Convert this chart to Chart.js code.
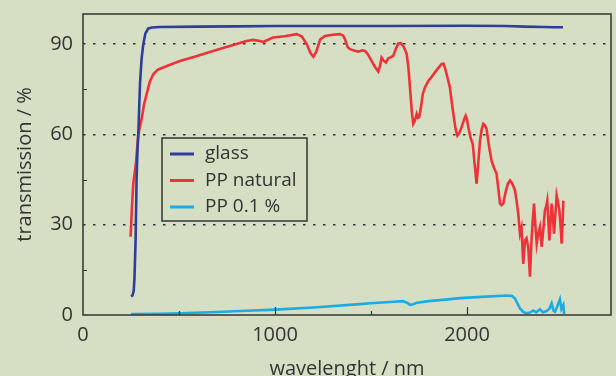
<!DOCTYPE html>
<html>
<head>
<meta charset="utf-8">
<script src="https://cdn.jsdelivr.net/npm/chart.js@4"></script>
<style>
  html, body { margin: 0; padding: 0; background: #d6dfc4; overflow: hidden; }
</style>
</head>
<body>
<canvas id="spektrum" width="616" height="376"></canvas>
<script>
const glassWl = [250, 258, 264, 268, 274, 279, 284, 288, 297, 305, 314, 325, 340, 360, 400, 600, 800, 1000, 1300, 1600, 2000, 2200, 2300, 2400, 2450, 2500];
const glassT  = [6.2, 6.5, 8, 12, 25, 45, 55, 60, 77, 85, 90, 93.5, 95.2, 95.5, 95.7, 95.8, 95.9, 96, 96, 96, 96.1, 96, 95.8, 95.7, 95.6, 95.6];

const ppNatWl = [248, 255, 262, 275, 288, 305, 318, 332, 348, 366, 390, 418, 460, 505, 590, 677, 760, 852, 885, 922, 938, 990, 1050, 1113,
  1140, 1165, 1185, 1200, 1215, 1235, 1260, 1300, 1339, 1355, 1365, 1378, 1391, 1415, 1434, 1455, 1469, 1485, 1503, 1520, 1538, 1548,
  1555, 1566, 1578, 1590, 1599, 1616, 1630, 1642, 1655, 1668, 1678, 1686, 1695, 1703, 1712, 1720, 1728, 1738, 1745, 1751, 1760, 1770,
  1781, 1799, 1815, 1833, 1850, 1868, 1878, 1885, 1898, 1911, 1920, 1929, 1940, 1950, 1960, 1972, 1985, 1993, 2000, 2007, 2018, 2030,
  2040, 2050, 2058, 2068, 2076, 2085, 2094, 2102, 2115, 2128, 2140, 2154, 2165, 2172, 2180, 2189, 2200, 2212, 2224, 2235, 2250, 2258,
  2267, 2276, 2284, 2293, 2302, 2310, 2319, 2328, 2336, 2342, 2349, 2356, 2363, 2371, 2380, 2389, 2397, 2406, 2412, 2418, 2424, 2429,
  2435, 2441, 2447, 2453, 2460, 2467, 2474, 2481, 2487, 2493, 2498, 2502];
const ppNatT = [26, 36, 43.7, 50, 60, 65, 70, 73.5, 77.5, 80, 81.5, 82.2, 83.3, 84.4, 86, 87.7, 89.3, 91, 91.4, 91, 90.7, 92.2, 92.6, 93.3,
  92.5, 90, 87, 85.8, 87.5, 91.5, 92.7, 93.1, 93.3, 92.8, 91.6, 89, 88.3, 87.8, 87.5, 87.9, 87.7, 86.5, 84.4, 82.5, 80.9, 83,
  85.5, 84.5, 83.9, 85.3, 85.5, 86.1, 88.5, 90.2, 90.3, 89.4, 88, 86.7, 82, 75.6, 68, 63.5, 64.5, 66.8, 65.5, 65.7, 69, 73.5,
  75.6, 77.8, 79, 80.6, 82, 83.4, 83.5, 82.2, 79, 75.6, 71, 66.8, 62, 59.6, 60.5, 62.4, 65, 66.2, 65, 62.4, 59, 56.8,
  50, 43.6, 50, 57.9, 61.5, 63.5, 63, 61.8, 56, 51.3, 49, 46.9, 41, 37, 36.5, 37, 40.5, 43.5, 44.7, 43.8, 41.4, 38,
  33.7, 27, 29, 17, 24.8, 25.5, 22.6, 12.7, 24.8, 31, 37, 30, 23.7, 27, 29.2, 22.6, 28, 34.8, 36, 38, 31, 24.8,
  31, 37, 33, 27, 33, 39.7, 37.5, 34.8, 30, 23.7, 31, 38];

const ppBlackWl = [250, 400, 505, 700, 853, 1000, 1200, 1443, 1495, 1600, 1668, 1690, 1703, 1720, 1740, 1800, 1900, 1963, 2100, 2207,
  2235, 2250, 2265, 2276, 2290, 2305, 2328, 2345, 2360, 2380, 2395, 2415, 2430, 2441, 2450, 2458, 2470, 2484, 2492, 2502, 2506];
const ppBlackT = [0.3, 0.4, 0.6, 1.0, 1.4, 1.8, 2.5, 3.6, 3.9, 4.3, 4.6, 4.0, 3.4, 3.6, 4.1, 4.6, 5.2, 5.6, 6.1, 6.5,
  6.3, 5.5, 3.5, 2.2, 1.2, 0.6, 0.8, 1.5, 0.9, 1.9, 0.9, 1.3, 2.2, 3.9, 1.5, 1.1, 2.8, 5.2, 2.0, 3.3, 0.3];

const seriesNames = ["glass", "PP natural", "PP 0.1 %"];
const seriesColors = ["#2d3f9b", "#ee3338", "#1cace3"];
const xTicks = [0, 1000, 2000];
const xMinorTicks = [500, 1500];
const yTicks = [0, 30, 60, 90];
const yMinorTicks = [15, 45, 75];

const BG = "#d6dfc4";
const INK = "#333333";
const FONT = "'Open Sans', sans-serif";

const toPoints = (xs, ys) => xs.map((x, i) => ({ x: x, y: ys[i] }));

// Hintergrund, Rahmen, Ticks nach innen, Legende im Plot
const deko = {
  id: "deko",
  beforeDraw(chart) {
    const c = chart.ctx;
    c.save();
    c.fillStyle = BG;
    c.fillRect(0, 0, chart.width, chart.height);
    c.restore();
  },
  afterDraw(chart) {
    const c = chart.ctx;
    const a = chart.chartArea;
    const sx = chart.scales.x, sy = chart.scales.y;
    c.save();
    c.strokeStyle = INK;
    c.lineWidth = 1.5;
    c.strokeRect(a.left, a.top, a.right - a.left, a.bottom - a.top);

    c.lineWidth = 1.2;
    c.beginPath();
    xTicks.slice(1).forEach(v => {
      const px = Math.round(sx.getPixelForValue(v)) + 0.5;
      c.moveTo(px, a.bottom); c.lineTo(px, a.bottom - 8);
    });
    xMinorTicks.forEach(v => {
      const px = Math.round(sx.getPixelForValue(v)) + 0.5;
      c.moveTo(px, a.bottom); c.lineTo(px, a.bottom - 4);
    });
    yMinorTicks.forEach(v => {
      const py = Math.round(sy.getPixelForValue(v)) + 0.5;
      c.moveTo(a.left, py); c.lineTo(a.left + 4, py);
    });
    c.stroke();

    // Legende
    const lx = 162, ly = 138, lw = 145, lh = 83;
    c.fillStyle = BG;
    c.fillRect(lx, ly, lw, lh);
    c.lineWidth = 1.5;
    c.strokeStyle = INK;
    c.strokeRect(lx, ly, lw, lh);
    c.font = "19px " + FONT;
    c.textBaseline = "middle";
    chart.data.datasets.forEach((ds, i) => {
      const y = ly + 16 + i * 26.5;
      c.strokeStyle = ds.borderColor;
      c.lineWidth = 3;
      c.beginPath();
      c.moveTo(lx + 8, y); c.lineTo(lx + 32, y);
      c.stroke();
      c.fillStyle = INK;
      c.fillText(ds.label, lx + 43, y);
    });
    c.restore();
  }
};

new Chart(document.getElementById("spektrum").getContext("2d"), {
  type: "line",
  data: {
    datasets: [
      { label: seriesNames[0], data: toPoints(glassWl, glassT), borderColor: seriesColors[0] },
      { label: seriesNames[1], data: toPoints(ppNatWl, ppNatT), borderColor: seriesColors[1] },
      { label: seriesNames[2], data: toPoints(ppBlackWl, ppBlackT), borderColor: seriesColors[2] },
    ],
  },
  options: {
    responsive: false,
    animation: false,
    devicePixelRatio: 1,
    layout: { padding: { top: 14, right: 5, left: 0, bottom: 0 } },
    elements: {
      line: { borderWidth: 2.6, tension: 0 },
      point: { radius: 0 },
    },
    plugins: {
      legend: { display: false },
      tooltip: { enabled: false },
    },
    scales: {
      x: {
        type: "linear",
        min: 0,
        max: 2750,
        afterBuildTicks: (s) => { s.ticks = xTicks.map(v => ({ value: v })); },
        afterFit: (s) => { s.height = 61; s.paddingLeft = 0; s.paddingRight = 0; },
        grid: { display: false, drawTicks: false },
        border: { display: false },
        ticks: {
          color: INK, font: { family: FONT, size: 20 }, padding: 8, maxRotation: 0,
          callback: (v) => String(v),
        },
        title: {
          display: true,
          text: "wavelenght / nm",
          color: INK,
          font: { family: FONT, size: 20, lineHeight: 1 },
          padding: { top: 0, bottom: -3 },
        },
      },
      y: {
        type: "linear",
        min: 0,
        max: 100,
        afterBuildTicks: (s) => { s.ticks = yTicks.map(v => ({ value: v })); },
        afterFit: (s) => { s.width = 83; s.paddingTop = 0; s.paddingBottom = 0; },
        grid: {
          drawTicks: false,
          color: (ctx) => (ctx.tick && ctx.tick.value === 0 ? "rgba(0,0,0,0)" : INK),
          lineWidth: 1.5,
        },
        border: { display: false, dash: [2.5, 7.5] },
        ticks: { color: INK, font: { family: FONT, size: 20 }, padding: 10, callback: (v) => String(v) },
        title: {
          display: true,
          text: "transmission / %",
          color: INK,
          font: { family: FONT, size: 20, lineHeight: 1 },
          padding: { top: 15, bottom: 0 },
        },
      },
    },
  },
  plugins: [deko],
});
</script>
</body>
</html>
